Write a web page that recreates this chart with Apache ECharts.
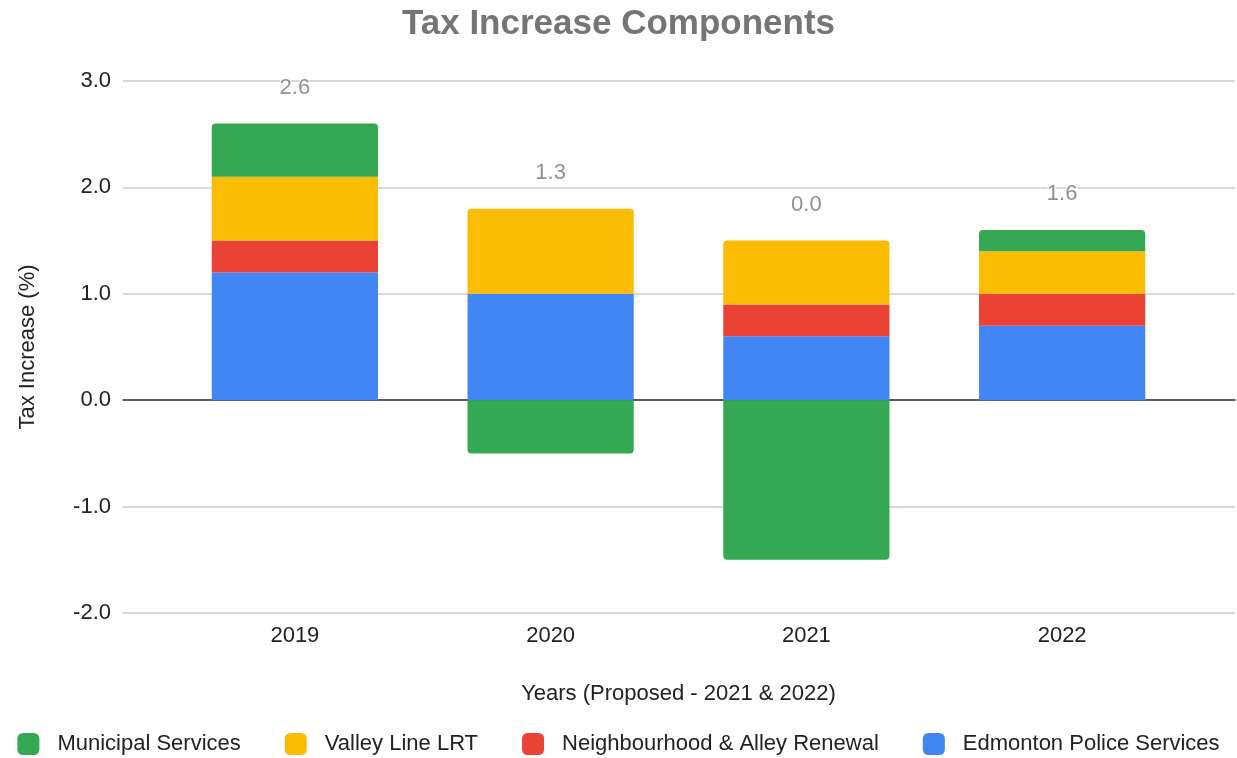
<!DOCTYPE html>
<html>
<head>
<meta charset="utf-8">
<script src="https://cdn.jsdelivr.net/npm/echarts@6/dist/echarts.min.js"></script>
<style>html,body{margin:0;padding:0;background:#fff}#c{width:1237px;height:758px}</style>
</head>
<body>
<div id="c"></div>
<script>
const years = ['2019', '2020', '2021', '2022'];
const police = [1.2, 1.0, 0.6, 0.7];
const alley = [0.3, 0.0, 0.3, 0.3];
const lrt = [0.6, 0.8, 0.6, 0.4];
const municipal = [0.5, -0.5, -1.5, 0.2];
const totals = [2.6, 1.3, 0.0, 1.6];
const yTicks = [-2, -1, 0, 1, 2, 3];

const colors = { municipal: '#34a853', lrt: '#fbbc04', alley: '#ea4335', police: '#4285f4' };
const FONT = '"Liberation Sans", Arial, sans-serif';
const stackOrder = [police, alley, lrt, municipal];

const posTop = years.map((_, i) =>
  stackOrder.map(s => s[i]).filter(v => v > 0).reduce((a, b) => a + b, 0));

function withCorners(arr, k) {
  return arr.map((v, j) => {
    let r = [0, 0, 0, 0];
    if (v > 0 && !stackOrder.slice(k + 1).some(s => s[j] > 0)) r = [4, 4, 0, 0];
    if (v < 0 && !stackOrder.slice(k + 1).some(s => s[j] < 0)) r = [0, 0, 4, 4];
    return { value: v, itemStyle: { borderRadius: r } };
  });
}

const chart = echarts.init(document.getElementById('c'));
const barSeries = (name, k, color) => ({
  name, type: 'bar', stack: 'total', data: withCorners(stackOrder[k], k), xAxisIndex: 1, yAxisIndex: 1,
  barWidth: '65%', itemStyle: { color }, z: 3
});
chart.setOption({
  animation: false,
  textStyle: { fontFamily: FONT },
  title: {
    text: 'Tax Increase Components', left: 'center', top: 2,
    textStyle: { fontFamily: FONT, fontWeight: 'bold', fontSize: 35, color: '#757575' }
  },
  legend: {
    bottom: 3, left: 'center', padding: 0, itemWidth: 22, itemHeight: 22, itemGap: 44, icon: 'roundRect',
    data: ['Municipal Services', 'Valley Line LRT', 'Neighbourhood & Alley Renewal', 'Edmonton Police Services'],
    textStyle: { fontSize: 22, color: '#222', fontFamily: FONT, padding: [0, 0, 0, 13] }
  },
  grid: [
    { left: 123, right: 2, top: 81, bottom: 145 },
    { left: 167, right: 47, top: 81, bottom: 145 }
  ],
  xAxis: [
    { type: 'category', gridIndex: 0, data: years, axisLine: { onZero: true, lineStyle: { color: '#333', width: 1.5 } },
      axisTick: { show: false }, axisLabel: { show: false }, splitLine: { show: false }, z: 2 },
    { type: 'category', gridIndex: 1, data: years, axisLine: { show: false, onZero: false }, position: 'bottom',
      axisTick: { show: false }, axisLabel: { fontSize: 22, color: '#222', margin: 12, fontFamily: FONT },
      name: 'Years (Proposed - 2021 & 2022)', nameLocation: 'middle', nameGap: 70,
      nameTextStyle: { fontSize: 22, color: '#222', fontFamily: FONT } }
  ],
  yAxis: [
    { type: 'value', gridIndex: 0, min: yTicks[0], max: yTicks[yTicks.length - 1], interval: 1,
      axisLine: { show: false }, axisTick: { show: false },
      axisLabel: { fontSize: 22, color: '#222', margin: 12, formatter: v => v.toFixed(1), fontFamily: FONT },
      splitLine: { lineStyle: { color: '#cccccc', width: 1.5 } },
      name: 'Tax Increase (%)', nameLocation: 'middle', nameGap: 84, nameRotate: 90,
      nameTextStyle: { fontSize: 22, color: '#222', fontFamily: FONT } },
    { type: 'value', gridIndex: 1, min: yTicks[0], max: yTicks[yTicks.length - 1], interval: 1,
      axisLine: { show: false }, axisTick: { show: false }, axisLabel: { show: false }, splitLine: { show: false } }
  ],
  series: [
    barSeries('Edmonton Police Services', 0, colors.police),
    barSeries('Neighbourhood & Alley Renewal', 1, colors.alley),
    barSeries('Valley Line LRT', 2, colors.lrt),
    barSeries('Municipal Services', 3, colors.municipal),
    {
      type: 'scatter', xAxisIndex: 1, yAxisIndex: 1, symbolSize: 0, data: posTop, z: 4,
      label: { show: true, position: 'top', distance: 25, fontSize: 22, color: '#757575', fontFamily: FONT,
        textBorderColor: '#fff', textBorderWidth: 3,
        formatter: p => totals[p.dataIndex].toFixed(1) },
      tooltip: { show: false }
    }
  ]
});
</script>
</body>
</html>
